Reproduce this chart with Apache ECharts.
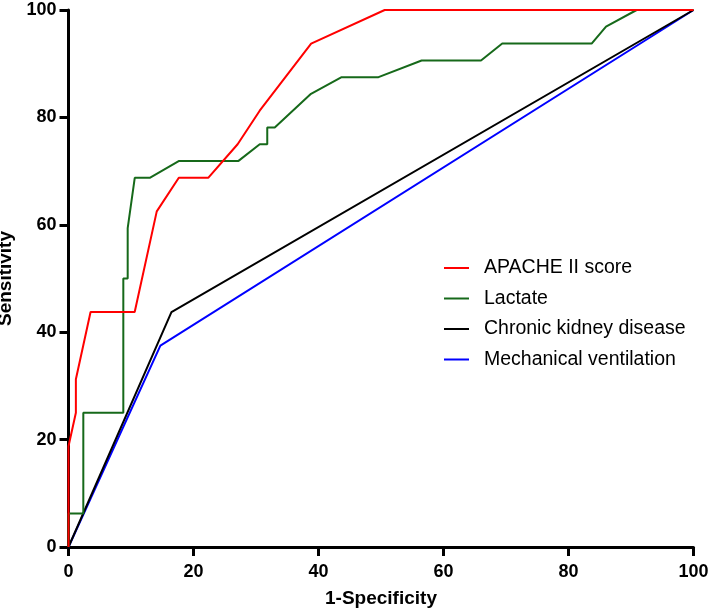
<!DOCTYPE html>
<html>
<head>
<meta charset="utf-8">
<script src="https://cdn.jsdelivr.net/npm/echarts@6/dist/echarts.min.js"></script>
<style>html,body{margin:0;padding:0;background:#fff}#c{width:712px;height:610px}</style>
</head>
<body>
<div id="c"></div>
<script>
const seriesNames = ['APACHE II score', 'Lactate', 'Chronic kidney disease', 'Mechanical ventilation'];
const seriesColors = ['#ff0000', '#16691a', '#000000', '#0000ff'];
const xTicks = [0, 20, 40, 60, 80, 100];
const yTicks = [0, 20, 40, 60, 80, 100];

// ROC points: [1-Specificity, Sensitivity]
const apache = [[0,0],[0,18.75],[1.18,25],[1.18,31.25],[3.53,43.75],[10.59,43.75],[14.12,62.5],[17.65,68.75],[22.35,68.75],[27.06,75],[30.59,81.25],[38.82,93.75],[50.59,100],[100,100]];
const lactate = [[0,0],[0,6.25],[2.37,6.25],[2.37,25],[8.77,25],[8.77,50],[9.47,50],[9.47,59.4],[10.6,68.75],[13.0,68.75],[17.7,71.9],[27.2,71.9],[30.6,75],[31.8,75],[31.8,78.1],[33.0,78.1],[38.8,84.4],[43.7,87.5],[49.6,87.5],[56.5,90.6],[66.0,90.6],[69.4,93.75],[83.7,93.75],[86.0,96.9],[90.9,100],[100,100]];
const ckd = [[0,0],[16.47,43.75],[100,100]];
const mv = [[0,0],[14.7,37.5],[100,100]];
const allData = [apache, lactate, ckd, mv];

const chart = echarts.init(document.getElementById('c'), null, {renderer: 'canvas'});
const axisCommon = {
  type: 'value', min: 0, max: 100, interval: 20,
  axisLine: {show: true, lineStyle: {color: '#000', width: 3}},
  axisTick: {show: true, length: 9, lineStyle: {color: '#000', width: 3}},
  splitLine: {show: false},
  nameLocation: 'middle',
  nameTextStyle: {fontFamily: 'Liberation Sans, Arial', fontWeight: 'bold', fontSize: 19, color: '#000'},
  axisLabel: {fontFamily: 'Liberation Sans, Arial', fontWeight: 'bold', fontSize: 18, color: '#000'}
};
chart.setOption({
  animation: false,
  backgroundColor: '#fff',
  grid: {left: 68.5, right: 18.5, top: 10, bottom: 63, containLabel: false, outerBoundsMode: 'none'},
  xAxis: Object.assign({}, axisCommon, {
    name: '1-Specificity', nameGap: 42,
    axisLabel: Object.assign({}, axisCommon.axisLabel, {margin: 16})
  }),
  yAxis: Object.assign({}, axisCommon, {
    name: 'Sensitivity', nameGap: 48,
    axisLabel: Object.assign({}, axisCommon.axisLabel, {margin: 12})
  }),
  legend: {
    orient: 'vertical', left: 439, top: 253,
    itemWidth: 25, itemHeight: 2, itemGap: 10.5,
    icon: 'rect',
    textStyle: {fontFamily: 'Liberation Sans, Arial', fontSize: 19.5, lineHeight: 20, color: '#000', padding: [0, 0, 0, 10]},
    data: seriesNames
  },
  series: seriesNames.map((n, i) => ({
    name: n, type: 'line', data: allData[i],
    symbol: 'none', clip: false,
    lineStyle: {color: seriesColors[i], width: 2},
    itemStyle: {color: seriesColors[i]},
    z: 10 - i
  }))
});
</script>
</body>
</html>
